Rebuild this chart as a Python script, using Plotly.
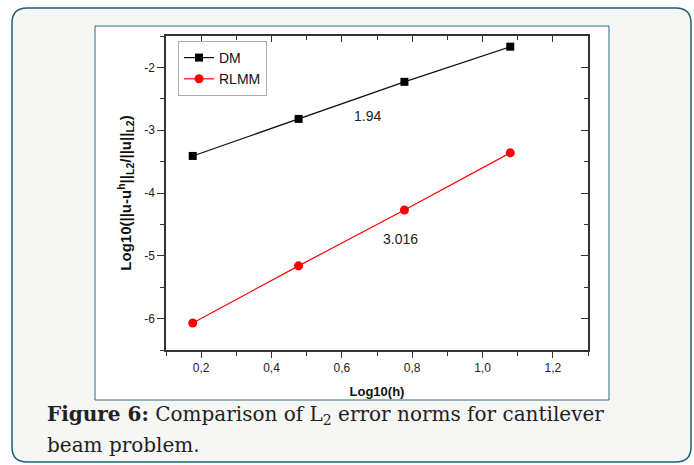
import plotly.graph_objects as go

# ---- data ----
log_h = [0.176, 0.477, 0.778, 1.079]
dm_err = [-3.41, -2.82, -2.23, -1.67]
rlmm_err = [-6.07, -5.16, -4.27, -3.36]
x_ticks = [0.2, 0.4, 0.6, 0.8, 1.0, 1.2]
x_tick_labels = ["0,2", "0,4", "0,6", "0,8", "1,0", "1,2"]
y_ticks = [-2, -3, -4, -5, -6]
y_tick_labels = ["-2", "-3", "-4", "-5", "-6"]
slope_labels = ["1.94", "3.016"]
slope_pos = [(0.672, -2.78), (0.768, -4.73)]

W, H = 694, 465
L, R, T, B = 166, 588, 36, 350


def px(x):
    return (x - L) / (R - L)


def py(y):
    return (B - y) / (B - T)


fig = go.Figure()
fig.add_trace(go.Scatter(
    x=log_h, y=dm_err, mode="lines+markers", name="DM",
    line=dict(color="#111111", width=1.2),
    marker=dict(symbol="square", size=8, color="#000000"),
))
fig.add_trace(go.Scatter(
    x=log_h, y=rlmm_err, mode="lines+markers", name="RLMM",
    line=dict(color="#ff0000", width=1.2),
    marker=dict(symbol="circle", size=9, color="#ff0000"),
))

axis_font = dict(family="Liberation Sans, Arial, sans-serif", size=12, color="#222222")
common = dict(showline=True, linecolor="#333333", linewidth=1.5, showgrid=False,
              zeroline=False, tickcolor="#333333", tickwidth=1.2)

fig.update_layout(
    width=W, height=H,
    margin=dict(l=L, r=W - R, t=T, b=H - B),
    paper_bgcolor="#ffffff",
    plot_bgcolor="rgba(0,0,0,0)",
    showlegend=True,
    legend=dict(x=px(178), y=py(41), xanchor="left", yanchor="top",
                bgcolor="#ffffff", bordercolor="#aaaaaa", borderwidth=1,
                font=dict(family="Liberation Sans, Arial, sans-serif", size=14, color="#111111"),
                tracegroupgap=0, itemwidth=30),
    xaxis=dict(range=[0.1, 1.3], tickvals=x_ticks, ticktext=x_tick_labels,
               ticks="outside", ticklen=6, tickfont=axis_font,
               minor=dict(dtick=0.1, tick0=0.1, ticks="outside", ticklen=4,
                          tickcolor="#333333", tickwidth=1.2),
               title=dict(text="<b>Log10(h)</b>", standoff=13,
                          font=dict(family="Liberation Sans, Arial, sans-serif", size=13, color="#111111")),
               **common),
    yaxis=dict(range=[-6.5, -1.5], tickvals=y_ticks, ticktext=y_tick_labels,
               ticks="outside", ticklen=7, tickfont=axis_font,
               minor=dict(dtick=0.5, tick0=-6.5, ticks="outside", ticklen=4,
                          tickcolor="#333333", tickwidth=1.2),
               title=dict(text="<b>Log10(||u-u<sup>h</sup>||<sub>L2</sub>/||u||<sub>L2</sub>)</b>",
                          standoff=9,
                          font=dict(family="Liberation Sans, Arial, sans-serif", size=15, color="#111111")),
               **common),
    xaxis2=dict(range=[0.1, 1.3], overlaying="x", side="top", anchor="y",
                tickvals=x_ticks, showticklabels=False, ticks="inside", ticklen=6,
                minor=dict(dtick=0.1, tick0=0.1, ticks="inside", ticklen=4,
                           tickcolor="#333333", tickwidth=1.2),
                **common),
    yaxis2=dict(range=[-6.5, -1.5], overlaying="y", side="right", anchor="x",
                tickvals=y_ticks, showticklabels=False, ticks="inside", ticklen=7,
                minor=dict(dtick=0.5, tick0=-6.5, ticks="inside", ticklen=4,
                           tickcolor="#333333", tickwidth=1.2),
                **common),
)

# dummy invisible trace to activate the mirror axes
fig.add_trace(go.Scatter(x=[log_h[0]], y=[dm_err[0]], xaxis="x2", yaxis="y2",
                         mode="markers", marker=dict(opacity=0), showlegend=False,
                         hoverinfo="skip"))

# outer rounded panel
x0, x1, y0, y1, r = 12, 691, 8, 462, 15
path = (f"M {px(x0 + r)} {py(y0)} L {px(x1 - r)} {py(y0)} "
        f"Q {px(x1)} {py(y0)} {px(x1)} {py(y0 + r)} "
        f"L {px(x1)} {py(y1 - r)} Q {px(x1)} {py(y1)} {px(x1 - r)} {py(y1)} "
        f"L {px(x0 + r)} {py(y1)} Q {px(x0)} {py(y1)} {px(x0)} {py(y1 - r)} "
        f"L {px(x0)} {py(y0 + r)} Q {px(x0)} {py(y0)} {px(x0 + r)} {py(y0)} Z")
fig.add_shape(type="path", path=path, xref="paper", yref="paper",
              fillcolor="#f6f6f4", line=dict(color="#1d5f78", width=1.5), layer="below")
# inner image box
fig.add_shape(type="rect", xref="paper", yref="paper",
              x0=px(95), x1=px(609), y0=py(400), y1=py(26),
              fillcolor="#ffffff", line=dict(color="#2a6a80", width=1), layer="below")

for txt, (ax, ay) in zip(slope_labels, slope_pos):
    fig.add_annotation(x=ax, y=ay, text=txt, showarrow=False,
                       font=dict(family="Liberation Sans, Arial, sans-serif", size=14, color="#222222"))

cap_font = dict(family="DejaVu Serif, serif", size=20, color="#222222")
fig.add_annotation(xref="paper", yref="paper", x=px(45), y=py(415), xanchor="left", yanchor="middle",
                   text="<b>Figure 6:</b> Comparison of L<sub>2</sub> error norms for cantilever",
                   showarrow=False, font=cap_font)
fig.add_annotation(xref="paper", yref="paper", x=px(45), y=py(445), xanchor="left", yanchor="middle",
                   text="beam problem.", showarrow=False, font=cap_font)

fig.write_html("out.html")
